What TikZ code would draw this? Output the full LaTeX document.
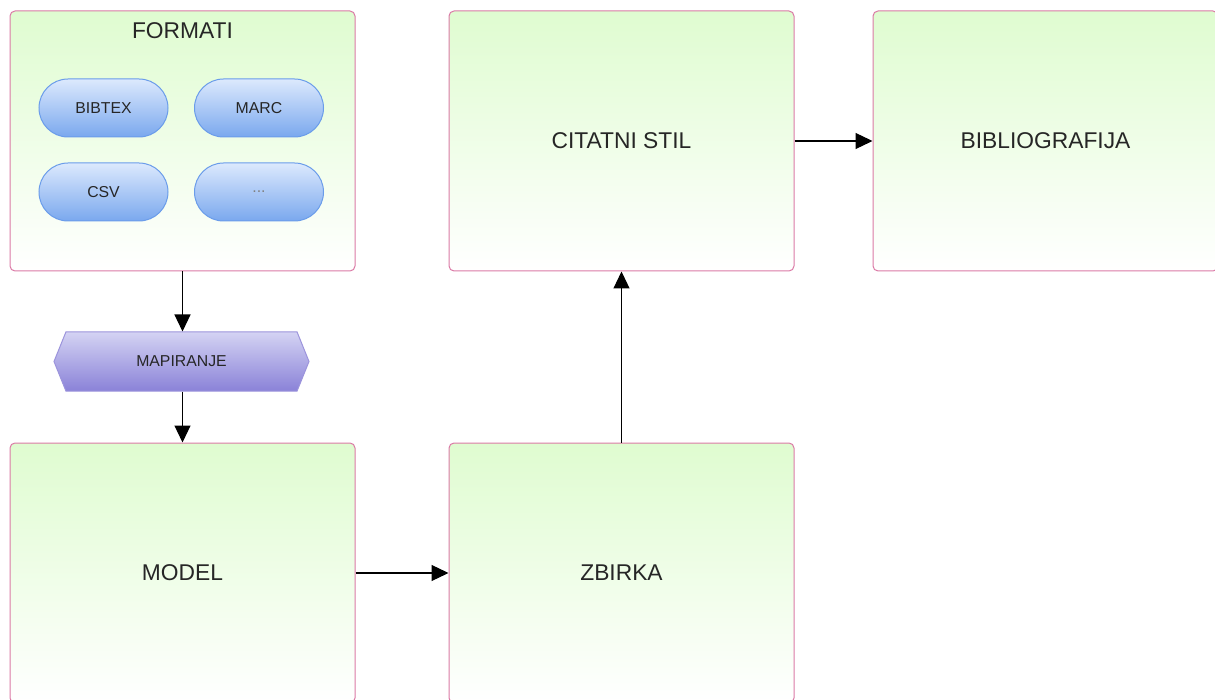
\documentclass[tikz,border=0pt]{standalone}
\usepackage{fontspec}
\setmainfont{Liberation Sans}
\usetikzlibrary{shapes.symbols,arrows.meta}
\definecolor{boxgreen}{HTML}{DFFCD0}
\definecolor{boxborder}{HTML}{DB7AA6}
\definecolor{pilltop}{HTML}{DCE9FD}
\definecolor{pillbot}{HTML}{7AA8EE}
\definecolor{pillborder}{HTML}{6A9CEA}
\definecolor{hextop}{HTML}{D4D3F3}
\definecolor{hexbot}{HTML}{8A82D8}
\definecolor{hexborder}{HTML}{9C94DC}
\definecolor{txt}{HTML}{262626}
\tikzset{
  bigbox/.style={draw=boxborder, line width=1pt, rounded corners=5pt, top color=boxgreen, bottom color=white, minimum width=345pt, minimum height=260pt, inner sep=0pt, font=\fontsize{22.8}{26}\selectfont, text=txt},
  pill/.style={draw=pillborder, line width=1pt, rounded corners=29pt, top color=pilltop, bottom color=pillbot, minimum width=129pt, minimum height=58pt, inner sep=0pt, font=\fontsize{15.8}{18}\selectfont, text=txt},
  hexa/.style={shape=signal, signal to=west and east, signal pointer angle=136, draw=hexborder, line width=1pt, top color=hextop, bottom color=hexbot, minimum width=255pt, minimum height=59pt, inner sep=0pt, font=\fontsize{15.8}{18}\selectfont, text=txt},
  titletext/.style={font=\fontsize{22.8}{26}\selectfont, text=txt, inner sep=0pt},
  conn/.style={draw=black, line width=1.2pt, -{Triangle[length=17pt,width=16pt]}}
}
\begin{document}
\begin{tikzpicture}[x=1pt,y=-1pt]
\clip (0,0) rectangle (1215,700);
\fill[white] (0,0) rectangle (1215,700);
% containers
\node[bigbox] (formati) at (182.5,141) {};
\node[titletext] (formatiT) at (182.5,31) {FORMATI};
\node[bigbox] (citatni) at (621.5,141) {CITATNI STIL};
\node[bigbox] (biblio) at (1045.5,141) {BIBLIOGRAFIJA};
\node[bigbox] (model) at (182.5,573) {};
\node[titletext] (modelT) at (182.5,573) {MODEL};
\node[bigbox] (zbirka) at (621.5,573) {};
\node[titletext] (zbirkaT) at (621.5,573) {ZBIRKA};
% pills
\node[pill] (bibtex) at (103.5,108) {BIBTEX};
\node[pill] (marc) at (259,108) {MARC};
\node[pill] (csv) at (103.5,192) {CSV};
\node[pill, text=gray] (dots) at (259,192) {...};
% hexagon
\node[hexa] (mapiranje) at (181.5,361.5) {MAPIRANJE};
% connectors
\draw[conn] (formati.south) -- (formati.south |- mapiranje.north);
\draw[conn] (model.north |- mapiranje.south) -- (model.north);
\draw[conn] (model.east) -- (zbirka.west);
\draw[conn] (zbirka.north) -- (citatni.south);
\draw[conn] (citatni.east) -- (biblio.west);
\end{tikzpicture}
\end{document}
